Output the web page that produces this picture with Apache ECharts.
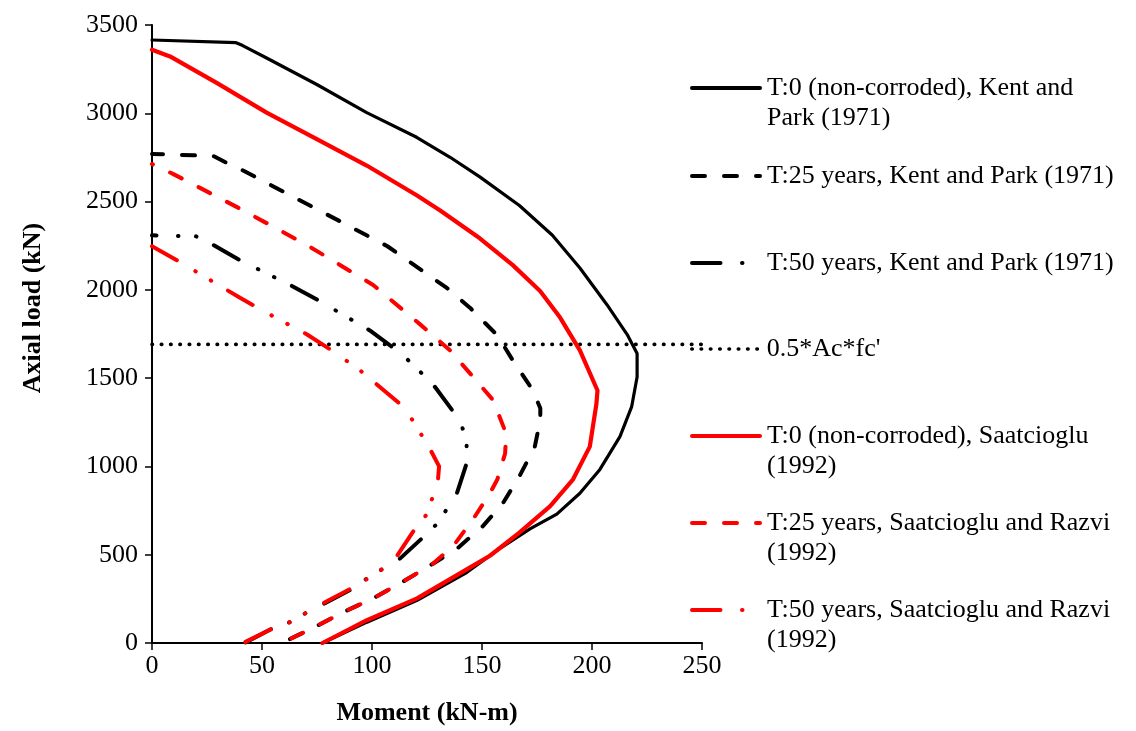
<!DOCTYPE html>
<html>
<head>
<meta charset="utf-8">
<script src="https://cdn.jsdelivr.net/npm/echarts/dist/echarts.min.js"></script>
<style>
  html, body { margin: 0; padding: 0; background: #ffffff; }
  #chart { width: 1136px; height: 731px; }
</style>
</head>
<body>
<div id="chart"></div>
<script>
// Axis ticks
const momentTicks = [0, 50, 100, 150, 200, 250];
const loadTicks = [0, 500, 1000, 1500, 2000, 2500, 3000, 3500];

// Interaction curves, points are [moment (kN-m), axial load (kN)]
const kentPark0 = [
  [0, 3415], [38.2, 3400], [41, 3385], [52.1, 3313], [74.9, 3163], [97.6, 3004],
  [120.3, 2864], [135.5, 2751], [149, 2640], [167, 2478], [182, 2309], [194.5, 2124],
  [206.8, 1916], [216, 1747], [220.5, 1640], [220.5, 1506], [218, 1337], [212.7, 1169],
  [203.6, 983], [194.5, 848], [184, 730], [171.8, 646], [158, 534], [143, 399],
  [120.5, 242], [97.7, 118], [77.5, 0]
];
const kentPark25 = [
  [0, 2770], [18.8, 2762], [27.9, 2758], [34, 2719], [41.4, 2676], [59.7, 2556],
  [85.5, 2388], [107, 2247], [123, 2107], [134, 2011], [144.5, 1899], [157, 1742],
  [164, 1601], [173, 1433], [176.5, 1330], [176.5, 1264], [174, 1112], [167, 944],
  [159.5, 792], [150.5, 663], [138.6, 534], [127.7, 449], [112.7, 337], [100.5, 253],
  [86.8, 174], [73, 84], [59, 0]
];
const kentPark50 = [
  [0, 2309], [20, 2303], [28, 2253], [40, 2168], [62.7, 2028], [76, 1938],
  [99, 1770], [109.5, 1674], [116, 1607], [127.7, 1466], [137, 1309], [141, 1225],
  [143, 1120], [143, 1017], [138.6, 848], [134, 758], [129.5, 674], [123, 596],
  [112.7, 478], [105, 421], [97.7, 365], [91.4, 309], [78.6, 225], [70.5, 174],
  [62.7, 118], [55, 84], [42, 0]
];
const halfAcFc = [[0, 1691], [250, 1691]];
const saatcioglu0 = [
  [0, 3360], [8.2, 3322], [29.4, 3172], [52.1, 3004], [74.9, 2854], [97.6, 2704],
  [120.3, 2536], [131, 2449], [149, 2292], [164, 2140], [176.4, 1994], [185.5, 1843],
  [194.5, 1657], [202.5, 1430], [202, 1354], [199, 1112], [191.4, 927], [181, 775],
  [167, 625], [153.6, 494], [146, 438], [120.5, 253], [97.7, 129], [77.5, 0]
];
const saatciogluRazvi25 = [
  [0, 2713], [9.5, 2657], [40, 2460], [70.5, 2253], [100.5, 2028], [122, 1803],
  [135.5, 1657], [146, 1506], [155, 1376], [161, 1185], [160.5, 1073], [157, 927],
  [153.6, 848], [146, 702], [137, 551], [127.7, 449], [112.7, 337], [100.5, 253],
  [86.8, 174], [73, 84], [59, 0]
];
const saatciogluRazvi50 = [
  [0, 2247], [12, 2163], [19.5, 2107], [40, 1955], [53.6, 1860], [70.5, 1747],
  [81, 1663], [94.5, 1545], [112.7, 1354], [118, 1270], [126.2, 1103], [130.5, 1000],
  [130, 927], [127.7, 831], [125, 730], [119.5, 646], [111.4, 494], [105, 421],
  [98, 365], [91.4, 315], [77.7, 225], [62.7, 118], [55, 84], [41.5, 0]
];

const seriesNames = [
  'T:0 (non-corroded), Kent and Park (1971)',
  'T:25 years, Kent and Park (1971)',
  'T:50 years, Kent and Park (1971)',
  "0.5*Ac*fc'",
  'T:0 (non-corroded), Saatcioglu (1992)',
  'T:25 years, Saatcioglu and Razvi (1992)',
  'T:50 years, Saatcioglu and Razvi (1992)'
];
// Wrapped legend text
const legendLabels = [
  'T:0 (non-corroded), Kent and\nPark (1971)',
  'T:25 years, Kent and Park (1971)',
  'T:50 years, Kent and Park (1971)',
  "0.5*Ac*fc'",
  'T:0 (non-corroded), Saatcioglu\n(1992)',
  'T:25 years, Saatcioglu and Razvi\n(1992)',
  'T:50 years, Saatcioglu and Razvi\n(1992)'
];
const legendCenters = [88, 176, 263, 349, 436, 523, 610];

const FONT = "'Liberation Serif', 'Times New Roman', serif";
const FS = 26;
const LH = 30;

const DASH = [13, 19];
const DASH_DOT = [28.5, 21.5, 0.5, 17.5, 0.5, 19.5];
const DOT = [0.5, 8.8];

const styles = [
  { data: kentPark0, color: '#000000', width: 3.2, type: 'solid', offset: 0 },
  { data: kentPark25, color: '#000000', width: 4, type: DASH, offset: 2 },
  { data: kentPark50, color: '#000000', width: 4, type: DASH_DOT, offset: 24 },
  { data: halfAcFc, color: '#000000', width: 3.6, type: DOT, offset: 0 },
  { data: saatcioglu0, color: '#ff0000', width: 4.2, type: 'solid', offset: 0 },
  { data: saatciogluRazvi25, color: '#ff0000', width: 4, type: DASH, offset: 12 },
  { data: saatciogluRazvi50, color: '#ff0000', width: 4, type: DASH_DOT, offset: 0 }
];

const series = styles.map((s, i) => ({
  name: seriesNames[i],
  type: 'line',
  data: s.data,
  symbol: 'none',
  showSymbol: false,
  smooth: false,
  silent: true,
  animation: false,
  color: s.color,
  lineStyle: {
    color: s.color, width: s.width, type: s.type,
    dashOffset: s.offset, cap: 'round', join: 'round'
  },
  z: 2 + i
}));

// One legend block per entry; a leading blank line keeps the first
// text line level with the key line for wrapped entries.
const legends = seriesNames.map((name, i) => {
  const twoLine = legendLabels[i].indexOf('\n') >= 0;
  const s = styles[i];
  return {
    data: [name],
    left: 690,
    top: legendCenters[i] - (twoLine ? 45 : 15),
    padding: 0,
    itemWidth: 68,
    itemHeight: 14,
    itemGap: 0,
    selectedMode: false,
    formatter: () => (twoLine ? '\n' : '') + legendLabels[i],
    itemStyle: { color: 'rgba(0,0,0,0)', borderColor: 'rgba(0,0,0,0)', borderWidth: 0, opacity: 0 },
    lineStyle: {
      color: s.color, width: s.type === DOT ? 3.6 : 4, type: s.type,
      dashOffset: 0, cap: 'round', opacity: 1
    },
    textStyle: {
      fontFamily: FONT,
      fontSize: FS,
      lineHeight: LH,
      color: '#000000',
      padding: [0, 0, 0, 2]
    }
  };
});

const chart = echarts.init(document.getElementById('chart'), null, { renderer: 'canvas' });
chart.setOption({
  backgroundColor: '#ffffff',
  animation: false,
  grid: { left: 152, right: 434, top: 25, bottom: 83, containLabel: false },
  legend: legends,
  xAxis: {
    type: 'value',
    min: momentTicks[0],
    max: momentTicks[momentTicks.length - 1],
    interval: momentTicks[1] - momentTicks[0],
    name: 'Moment (kN-m)',
    nameLocation: 'middle',
    nameGap: 57,
    nameTextStyle: { fontFamily: FONT, fontSize: FS, fontWeight: 'bold', color: '#000000' },
    axisLine: { show: true, lineStyle: { color: '#000000', width: 2 } },
    axisTick: { show: true, inside: false, length: 7, lineStyle: { color: '#000000', width: 1.5 } },
    axisLabel: { fontFamily: FONT, fontSize: FS, color: '#000000', margin: 10, formatter: v => String(v) },
    splitLine: { show: false }
  },
  yAxis: {
    type: 'value',
    min: loadTicks[0],
    max: loadTicks[loadTicks.length - 1],
    interval: loadTicks[1] - loadTicks[0],
    name: 'Axial load (kN)',
    nameLocation: 'middle',
    nameGap: 106,
    nameTextStyle: { fontFamily: FONT, fontSize: FS, fontWeight: 'bold', color: '#000000', padding: [0, 0, 0, 52] },
    axisLine: { show: true, lineStyle: { color: '#000000', width: 2 } },
    axisTick: { show: true, inside: false, length: 7, lineStyle: { color: '#000000', width: 1.5 } },
    axisLabel: { fontFamily: FONT, fontSize: FS, color: '#000000', margin: 14, formatter: v => String(v) },
    splitLine: { show: false }
  },
  series: series
});
</script>
</body>
</html>
